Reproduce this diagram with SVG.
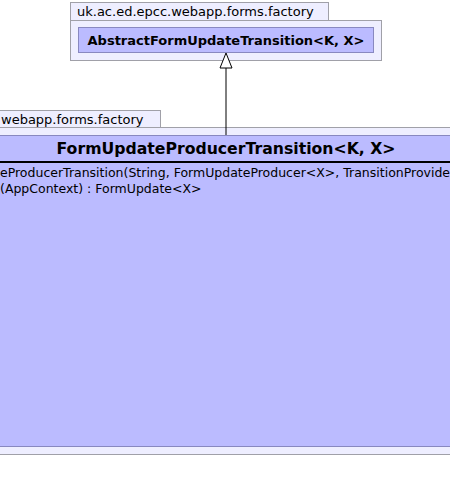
<svg xmlns="http://www.w3.org/2000/svg" width="450" height="493" viewBox="0 0 450 493">
<style>
.pkg{fill:#EEEEFF;stroke:#A0A0A8;stroke-width:1}
.cls{fill:#BBBBFF;stroke:#8888C0;stroke-width:1}
.t{font-family:"DejaVu Sans",sans-serif;fill:#000}
.lbl{font-size:13px}
.m{font-size:12.5px}
.edge{stroke:#000;stroke-width:1;fill:none}
</style>
<rect width="450" height="493" fill="#FFFFFF"/>
<g id="pkg-top">
<rect class="pkg" x="70.5" y="2.5" width="258" height="18"/>
<rect class="pkg" x="70.5" y="20.5" width="311" height="40"/>
<text class="t lbl" x="77" y="16">uk.ac.ed.epcc.webapp.forms.factory</text>
</g>
<g id="AbstractFormUpdateTransition">
<rect class="cls" x="78.5" y="27.5" width="295" height="25"/>
<text class="t" x="226" y="45" font-size="13" font-weight="bold" text-anchor="middle">AbstractFormUpdateTransition&lt;K, X&gt;</text>
</g>
<g id="pkg-bottom">
<rect class="pkg" x="-100" y="110.5" width="260.5" height="17"/>
<rect class="pkg" x="-100" y="127.5" width="600" height="327"/>
<text class="t lbl" x="1" y="124">webapp.forms.factory</text>
</g>
<g id="FormUpdateProducerTransition">
<rect class="cls" x="-100" y="135.5" width="600" height="311"/>
<text class="t" x="226" y="154" font-size="15.7" font-weight="bold" text-anchor="middle">FormUpdateProducerTransition&lt;K, X&gt;</text>
<line x1="-100" y1="162" x2="500" y2="162" stroke="#000" stroke-width="2"/>
<text class="t m" x="0" y="177">eProducerTransition(String, FormUpdateProducer&lt;X&gt;, TransitionProvide</text>
<text class="t m" x="0" y="193">(AppContext) : FormUpdate&lt;X&gt;</text>
</g>
<g id="connectors">
<line class="edge" x1="226" y1="68" x2="226" y2="135"/>
<polygon points="226,53 220,68 232,68" fill="#FFFFFF" stroke="#000" stroke-width="1"/>
</g>
</svg>
